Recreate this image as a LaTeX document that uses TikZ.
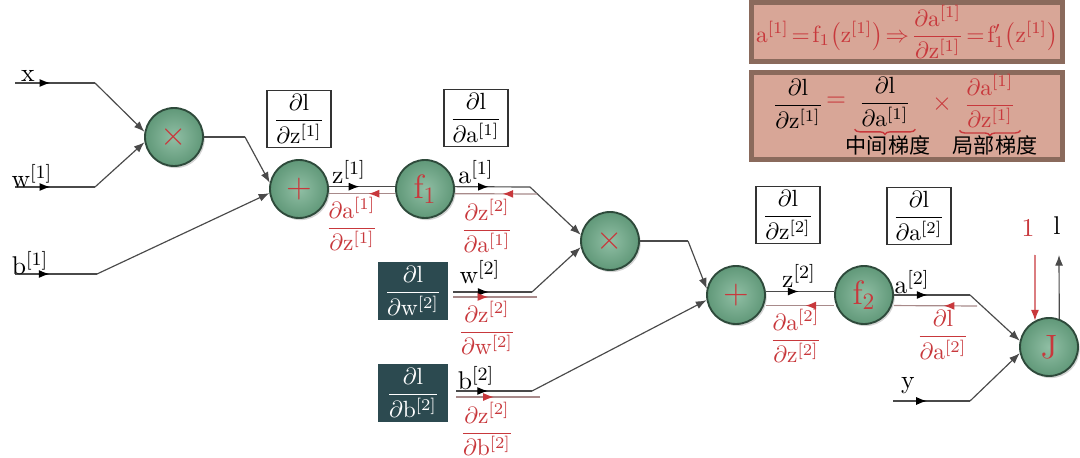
\documentclass[tikz,border=0pt]{standalone}
\usepackage{amsmath}
\usepackage{fontspec}
\newfontfamily\cjkfont{Noto Sans CJK SC}
\usepackage{tikz}
\usetikzlibrary{arrows.meta,decorations.markings,decorations.pathreplacing,shadows}
\definecolor{nodegreen}{HTML}{6BA986}
\definecolor{nodeedge}{HTML}{2E4A3B}
\definecolor{gradred}{HTML}{C8383C}
\definecolor{gradline}{HTML}{A88A8A}
\definecolor{wirecol}{HTML}{4A4A4A}
\definecolor{darkbox}{HTML}{2C4A50}
\definecolor{pinkbox}{HTML}{D8A697}
\definecolor{pinkedge}{HTML}{8A6A5C}
\newcommand{\pfrac}[2]{\dfrac{\partial\mathrm{#1}}{\partial\mathrm{#2}}}
\newcommand{\midsize}{\fontsize{10.95}{13}\selectfont}
\tikzset{
  op/.style={circle, draw=nodeedge, line width=.8pt, inner color=nodegreen!75!white, outer color=nodegreen!90!black, minimum size=.87cm, inner sep=0pt, text=gradred, font=\Large, drop shadow={opacity=.35, shadow xshift=.7pt, shadow yshift=-.9pt}},
  gbox/.style={draw=black!80, line width=.5pt, fill=white, minimum width=.96cm, minimum height=.86cm, inner sep=1pt},
  dbox/.style={fill=darkbox, text=white, minimum width=1.06cm, minimum height=.86cm, inner sep=1pt},
  eqbox/.style={draw=pinkedge, line width=2pt, fill=pinkbox, minimum width=4.66cm, inner sep=0pt},
  wire/.style={draw=wirecol, line width=.5pt},
  back/.style={draw=gradline, line width=.5pt},
  tip/.style={-{Latex[length=1.6mm, width=1.2mm]}},
  fwd/.style={postaction={decorate}, decoration={markings, mark=at position #1 with {\arrow{Latex[length=1.6mm, width=1.2mm, color=black]}}}},
  fwd/.default=.46,
  bwd/.style={postaction={decorate}, decoration={markings, mark=at position #1 with {\arrowreversed{Latex[length=1.6mm, width=1.2mm, color=gradred]}}}},
  bwd/.default=.6,
  ubrace/.style={draw=gradred, line width=.6pt, decorate, decoration={brace, mirror, amplitude=2.2pt}},
  lbl/.style={inner sep=1pt, font=\midsize},
  rlbl/.style={inner sep=1pt, text=gradred},
}
\begin{document}
\begin{tikzpicture}[x=0.015cm, y=-0.015cm]
\useasboundingbox (0,0) rectangle (1080,458);
% operation nodes
\node[op] (mul1) at (174,137) {$\times$};
\node[op] (add1) at (299,189) {$+$};
\node[op] (f1) at (425,189) {$\mathrm{f}_1$};
\node[op] (mul2) at (610,241) {$\times$};
\node[op] (add2) at (736,295) {$+$};
\node[op] (f2) at (864,295) {$\mathrm{f}_2$};
\node[op] (J) at (1049,347) {$\mathrm{J}$};
% gradient boxes
\node[gbox] (dz1) at (299,119) {$\pfrac{l}{z^{[1]}}$};
\node[gbox] (da1) at (476,118) {$\pfrac{l}{a^{[1]}}$};
\node[dbox] (dw2) at (413,291) {$\pfrac{l}{w^{[2]}}$};
\node[dbox] (db2) at (413,393) {$\pfrac{l}{b^{[2]}}$};
\node[gbox] (dz2) at (788,215) {$\pfrac{l}{z^{[2]}}$};
\node[gbox] (da2) at (919,216) {$\pfrac{l}{a^{[2]}}$};
% wire corners
\coordinate (xs) at (15,83); \coordinate (xk) at (95,83);
\coordinate (ws) at (15,187); \coordinate (wk) at (95,187);
\coordinate (bs) at (15,274); \coordinate (bk) at (97,274);
\coordinate (m1k) at (245,137);
\coordinate (a1k) at (530,187); \coordinate (a1e) at (537,194);
\coordinate (w2s) at (453,292); \coordinate (w2k) at (532,292);
\coordinate (w2b) at (453,297); \coordinate (w2e) at (537,297);
\coordinate (b2s) at (456,391); \coordinate (b2k) at (532,391);
\coordinate (b2b) at (456,397); \coordinate (b2e) at (540,397);
\coordinate (m2k) at (688,241);
\coordinate (a2k) at (970,295); \coordinate (a2e) at (977,306);
\coordinate (ysrc) at (893,401); \coordinate (yk) at (970,401);
\coordinate (oneq) at (1035,255); \coordinate (lout) at (1059,255);
% first layer
\draw[wire, fwd=.44] (xs) -- (xk); \draw[wire, tip] (xk) -- (mul1.170);
\draw[wire, fwd=.44] (ws) -- (wk); \draw[wire, tip] (wk) -- (mul1.190);
\draw[wire, fwd=.42] (bs) -- (bk); \draw[wire, tip] (bk) -- (add1.188);
\draw[wire] (mul1.east) -- (m1k); \draw[wire, tip] (m1k) -- (add1.168);
\draw[wire, fwd] ([yshift=1pt]add1.east) -- ([yshift=1pt]f1.west);
\draw[back, bwd] ([yshift=-2pt]add1.east) -- ([yshift=-2pt]f1.west);
\draw[wire, fwd=.45] ([yshift=1pt]f1.east) -- (a1k); \draw[wire, tip] (a1k) -- (mul2.168);
\draw[back, bwd=.58] ([yshift=-2pt]f1.east) -- (a1e);
% second layer
\draw[wire, fwd=.45] (w2s) -- (w2k); \draw[wire, tip] (w2k) -- (mul2.192);
\draw[back, bwd=.58] (w2e) -- (w2b);
\draw[wire, fwd=.42] (b2s) -- (b2k); \draw[wire, tip] (b2k) -- (add2.190);
\draw[back, bwd=.55] (b2e) -- (b2b);
\draw[wire] (mul2.east) -- (m2k); \draw[wire, tip] (m2k) -- (add2.168);
\draw[wire, fwd=.48] ([yshift=1.5pt]add2.east) -- ([yshift=1.5pt]f2.west);
\draw[back, bwd=.58] ([yshift=-4.5pt]add2.east) -- ([yshift=-4.5pt]f2.west);
\draw[wire, fwd=.44] (f2.east) -- (a2k); \draw[wire, tip] (a2k) -- (J.168);
\draw[back, bwd=.6] ([yshift=-4.5pt]f2.east) -- (a2e);
\draw[wire, fwd=.44] (ysrc) -- (yk); \draw[wire, tip] (yk) -- (J.192);
\draw[draw=gradred, line width=.5pt, tip] (oneq) -- (J.118);
\draw[wire, tip] (J.70) -- (lout);
% labels
\node[lbl] at (28,76) {x};
\node[lbl] at (32,176) {$\mathrm{w}^{[1]}$};
\node[lbl] at (30,263) {$\mathrm{b}^{[1]}$};
\node[lbl] at (349,172) {$\mathrm{z}^{[1]}$};
\node[lbl] at (476,172) {$\mathrm{a}^{[1]}$};
\node[lbl] at (480,272) {$\mathrm{w}^{[2]}$};
\node[lbl] at (476,378) {$\mathrm{b}^{[2]}$};
\node[lbl] at (799,276) {$\mathrm{z}^{[2]}$};
\node[lbl] at (912,282) {$\mathrm{a}^{[2]}$};
\node[lbl] at (908,386) {y};
\node[rlbl, font=\midsize] at (1028,228) {1};
\node[lbl] at (1057,226) {l};
\node[rlbl] at (352,224) {$\pfrac{a^{[1]}}{z^{[1]}}$};
\node[rlbl] at (487,226) {$\pfrac{z^{[2]}}{a^{[1]}}$};
\node[rlbl] at (487,328) {$\pfrac{z^{[2]}}{w^{[2]}}$};
\node[rlbl] at (487,429) {$\pfrac{z^{[2]}}{b^{[2]}}$};
\node[rlbl] at (796,336) {$\pfrac{a^{[2]}}{z^{[2]}}$};
\node[rlbl] at (943,335) {$\pfrac{l}{a^{[2]}}$};
% chain rule panel
\node[eqbox, minimum height=.88cm, text=gradred] (local) at (907,32) {$\thickmuskip=2mu\mathrm{a}^{[1]}=\mathrm{f}_1\big(\mathrm{z}^{[1]}\big)\Rightarrow\pfrac{a^{[1]}}{z^{[1]}}=\mathrm{f}_1'\big(\mathrm{z}^{[1]}\big)$};
\node[eqbox, minimum height=1.3cm] (chain) at (907,116) {};
\node[lbl, font=\normalsize] (cz) at (798,104) {$\pfrac{l}{z^{[1]}}$};
\node[rlbl, font=\midsize] (ceq) at (836,102) {$=$};
\node[lbl, font=\normalsize] (ca) at (885,102) {$\pfrac{l}{a^{[1]}}$};
\node[rlbl, font=\midsize] (ctimes) at (942,104) {$\times$};
\node[rlbl, font=\normalsize] (cl) at (990,101) {$\pfrac{a^{[1]}}{z^{[1]}}$};
\draw[ubrace] ([xshift=-13pt]ca.south) -- ([xshift=13pt]ca.south);
\draw[ubrace] ([xshift=-13pt]cl.south) -- ([xshift=13pt]cl.south);
\node[lbl, font=\small\cjkfont] at (888,145) {中间梯度};
\node[lbl, font=\small\cjkfont] at (995,145) {局部梯度};
\end{tikzpicture}
\end{document}
